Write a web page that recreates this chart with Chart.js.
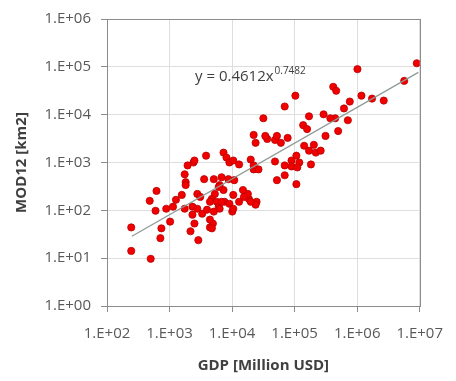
<!DOCTYPE html>
<html>
<head>
<meta charset="utf-8">
<script src="https://cdn.jsdelivr.net/npm/chart.js@4.4.1/dist/chart.umd.min.js"></script>
<style>
  html, body { margin: 0; background: #fff; }
  #wrap { width: 456px; height: 381px; }
</style>
</head>
<body>
<div id="wrap"><canvas id="gdpChart"></canvas></div>
<script>
// GDP (million USD) vs MOD12 urban area (km2)
const gdp = [
  8.98e6, 5.65e6, 1.01e6, 414500, 462100, 1.17e6, 1.73e6, 2.66e6, 762600, 615200,
  709800, 445600, 372400, 496500, 290300, 311900,
  102800, 69440, 169800, 137000, 158100, 142000, 202900, 169800, 218100, 260800,
  106600, 118800, 89190, 89190, 110400, 182400, 69440, 48530, 69440, 52120,
  106600, 60220, 48530, 52120, 77320, 36480, 33960,
  22130, 23770, 31620, 22130, 26430, 24620, 23770, 18510, 17860, 14930, 12940, 10450, 10070,
  1746, 1811, 1811, 2410, 3573, 3837, 5105, 7295, 8128, 6324, 9057, 10450, 10820, 7295,
  2780, 4753, 5686, 2324, 2324, 2500, 2163, 2884, 4426, 4932, 5105, 3327, 3972, 6106, 7568,
  244, 244, 482, 500, 597, 619, 714, 741, 1021, 885, 1137, 1266, 1570,
  12940, 19860, 22130, 6790, 8730, 6106, 5300, 3097, 4426, 6790, 9057, 15450, 6324, 10450,
  4426, 4753, 1945, 2500, 1746, 2780, 19860
];
const mod12 = [
  118800, 50800, 89500, 38200, 31600, 24950, 21680, 19720, 18800, 13490,
  7650, 8410, 8410, 4550, 10160, 3590,
  24950, 14830, 9250, 6040, 5000, 2240, 2340, 1770, 1610, 1770,
  1390, 1000, 1100, 828, 789, 910, 868, 1050, 541, 427,
  353, 2580, 2970, 3590, 3270, 3110, 3590,
  3770, 2580, 8410, 718, 718, 151, 131, 174, 220, 266, 151, 210, 94,
  567, 388, 337, 1000, 448, 1390, 448, 1610, 1270, 337, 1000, 1100, 427, 266,
  220, 174, 151, 119, 81, 53, 36.5, 23.8, 44, 53, 94, 85, 103, 119, 151,
  44, 14.2, 158, 9.7, 98, 254, 26.2, 42, 58, 108, 119, 166, 210,
  910, 1150, 868, 492, 448, 307, 220, 191, 151, 151, 137, 191, 108, 108,
  64, 42, 868, 1100, 108, 108, 151
];

const xTickValues = [1e2, 1e3, 1e4, 1e5, 1e6, 1e7];
const xTickLabels = ['1.E+02', '1.E+03', '1.E+04', '1.E+05', '1.E+06', '1.E+07'];
const yTickValues = [1e0, 1e1, 1e2, 1e3, 1e4, 1e5, 1e6];
const yTickLabels = ['1.E+00', '1.E+01', '1.E+02', '1.E+03', '1.E+04', '1.E+05', '1.E+06'];

// power-law fit shown on the chart: y = a * x^b
const fitA = 0.4612;
const fitB = 0.7482;
const fitRange = [250, 9.5e6];

const points = gdp.map((x, i) => ({ x: x, y: mod12[i] }));
const fitLine = fitRange.map(x => ({ x: x, y: fitA * Math.pow(x, fitB) }));

const axisColor = '#8c8c8c';
const gridColor = '#dedede';
const textColor = '#595959';
const fontFamily = '"Open Sans", "DejaVu Sans", sans-serif';

// frame around the plot area (top/right sides too)
const plotFrame = {
  id: 'plotFrame',
  afterDraw(chart) {
    const { ctx, chartArea: a } = chart;
    ctx.save();
    ctx.strokeStyle = axisColor;
    ctx.lineWidth = 1;
    ctx.strokeRect(Math.round(a.left) + 0.5, Math.round(a.top) + 0.5,
      Math.round(a.right - a.left), Math.round(a.bottom - a.top));
    ctx.restore();
  }
};

// equation label with a superscript exponent
const fitLabel = {
  id: 'fitLabel',
  afterDatasetsDraw(chart) {
    const { ctx, chartArea: a } = chart;
    const x = a.left + 88, y = a.top + 62;
    ctx.save();
    ctx.fillStyle = '#404040';
    ctx.textBaseline = 'alphabetic';
    ctx.font = '15px ' + fontFamily;
    const main = 'y = ' + fitA + 'x';
    ctx.fillText(main, x, y);
    const w = ctx.measureText(main).width;
    ctx.font = '10px ' + fontFamily;
    ctx.fillText(String(fitB), x + w + 1, y - 7);
    ctx.restore();
  }
};

Chart.defaults.font.family = fontFamily;
Chart.defaults.color = textColor;

new Chart(document.getElementById('gdpChart'), {
  type: 'scatter',
  data: {
    datasets: [
      {
        label: 'fit',
        type: 'line',
        data: fitLine,
        borderColor: '#8e9a95',
        borderWidth: 1.3,
        pointRadius: 0,
        fill: false
      },
      {
        label: 'MOD12',
        data: points,
        backgroundColor: '#f20000',
        borderColor: '#b80000',
        borderWidth: 0.8,
        pointRadius: 3.6
      }
    ]
  },
  options: {
    responsive: true,
    maintainAspectRatio: false,
    animation: false,
    layout: { padding: { top: 14, right: 27, left: 0, bottom: 0 } },
    plugins: {
      legend: { display: false },
      tooltip: { enabled: false }
    },
    scales: {
      x: {
        type: 'logarithmic',
        min: 1e2,
        max: 1e7,
        afterBuildTicks: s => { s.ticks = xTickValues.map(v => ({ value: v })); },
        afterFit: s => { s.height = 75; },
        ticks: {
          autoSkip: false,
          maxRotation: 0,
          padding: 13,
          font: { size: 15 },
          color: textColor,
          callback: (v, i) => xTickLabels[i]
        },
        grid: { color: gridColor, tickColor: axisColor, tickLength: 6 },
        border: { display: true, color: axisColor },
        title: {
          display: true,
          text: 'GDP [Million USD]',
          color: '#404040',
          font: { size: 15, weight: 'bold' },
          padding: { top: 0, bottom: 6 }
        }
      },
      y: {
        type: 'logarithmic',
        min: 1e0,
        max: 1e6,
        afterBuildTicks: s => { s.ticks = yTickValues.map(v => ({ value: v })); },
        afterFit: s => { s.width = 107; },
        ticks: {
          autoSkip: false,
          padding: 10,
          font: { size: 15 },
          color: textColor,
          callback: (v, i) => yTickLabels[i]
        },
        grid: { color: gridColor, tickColor: axisColor, tickLength: 6 },
        border: { display: true, color: axisColor },
        title: {
          display: true,
          text: 'MOD12 [km2]',
          color: '#404040',
          font: { size: 15, weight: 'bold' },
          padding: { top: 13, bottom: 0 }
        }
      }
    }
  },
  plugins: [plotFrame, fitLabel]
});
</script>
</body>
</html>
